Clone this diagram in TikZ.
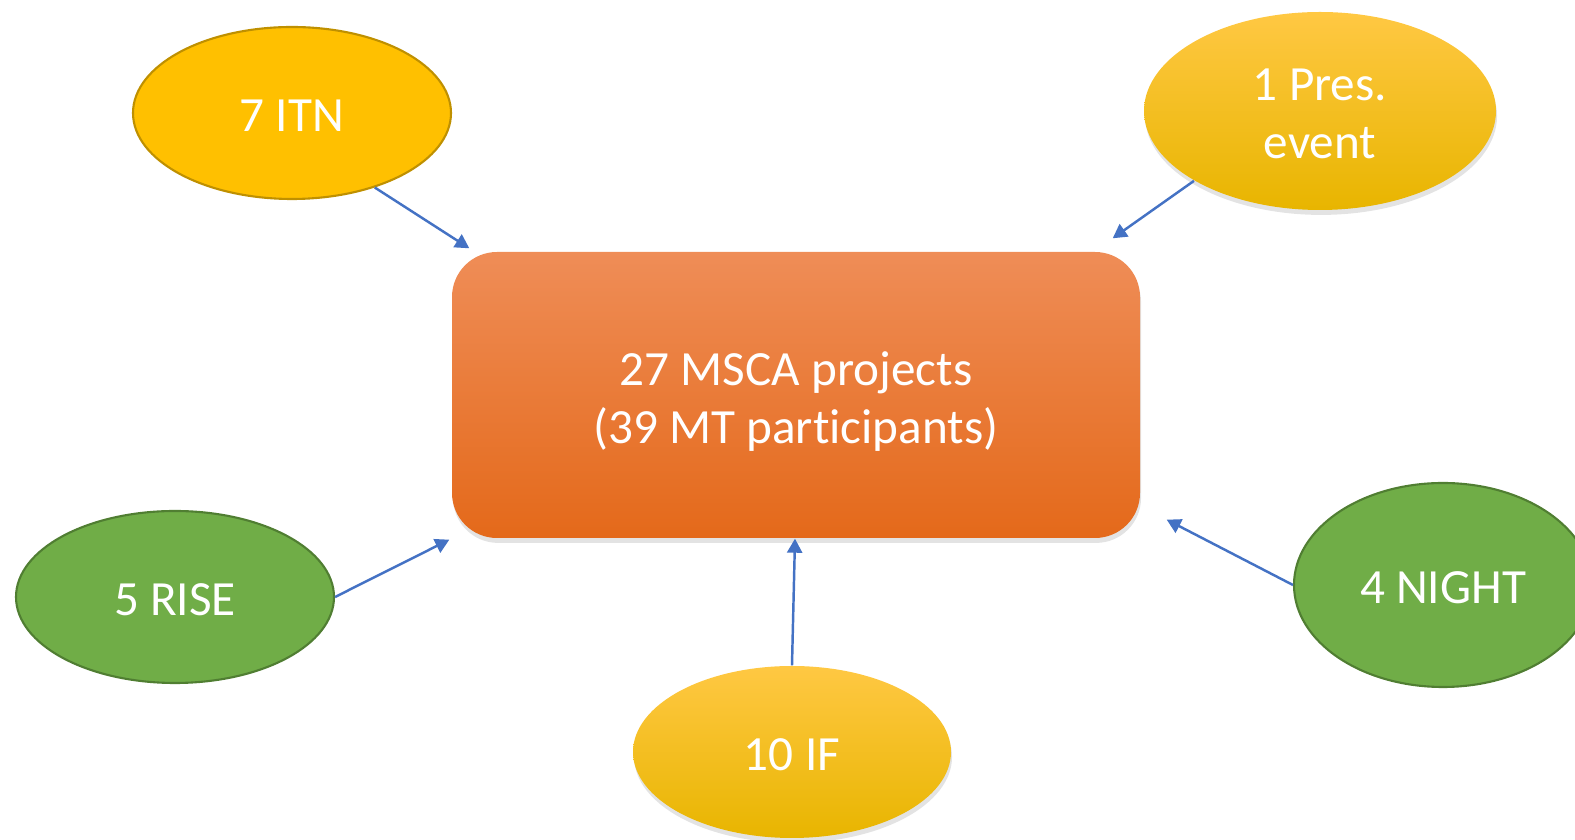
\documentclass[tikz,border=0pt]{standalone}
\usepackage{fontspec}
\setmainfont{Carlito}[Ligatures=NoCommon]
\usetikzlibrary{shapes.geometric,arrows.meta,shadows}
\definecolor{gold}{HTML}{FFC000}
\definecolor{goldtop}{HTML}{FFC843}
\definecolor{goldbot}{HTML}{E8B500}
\definecolor{golddark}{HTML}{BF9000}
\definecolor{leaf}{HTML}{70AD47}
\definecolor{leafdark}{HTML}{507E32}
\definecolor{fire}{HTML}{F07F30}
\definecolor{firetop}{HTML}{EF8D57}
\definecolor{firebot}{HTML}{E4691A}
\definecolor{linkblue}{HTML}{4472C4}
\newcommand{\sinktext}[2][2pt]{\raisebox{-#1}[\height][\depth]{#2}}
\begin{document}
\begin{tikzpicture}[
  txt/.style={text=white, font=\fontsize{14}{16.5}\selectfont, align=center},
  flat/.style={ellipse, txt, inner sep=0pt, minimum width=3.18cm, minimum height=1.72cm, line width=0.6pt},
  soft/.style={drop shadow={shadow xshift=0.3pt, shadow yshift=-1.4pt, opacity=0.22}},
  glow/.style={ellipse, txt, inner sep=0pt, top color=goldtop, middle color=gold, bottom color=goldbot, soft},
  link/.style={-{Triangle[length=1.4mm,width=1.5mm]}, linkblue, line width=0.7pt}]
\useasboundingbox (0,0) rectangle (15.75,8.4);
\node (msca) at (7.96,4.45) [txt, rounded corners=0.45cm, minimum width=6.88cm, minimum height=2.86cm,
  top color=firetop, middle color=fire, bottom color=firebot, soft]
  {\sinktext{\parbox{6cm}{\centering 27 MSCA projects\\(39 MT participants)}}};
\node (itn) at (2.92,7.27) [flat, fill=gold, draw=golddark] {\sinktext[0.8pt]{7 ITN}};
\node (rise) at (1.75,2.43) [flat, fill=leaf, draw=leafdark] {\sinktext[0.8pt]{5 RISE}};
\node (night) at (14.43,2.55) [flat, fill=leaf, draw=leafdark, minimum width=2.98cm, minimum height=2.04cm] {\sinktext[0.8pt]{4 NIGHT}};
\node (pres) at (13.20,7.29) [glow, minimum width=3.52cm, minimum height=1.98cm] {\sinktext[0.8pt]{\parbox{1.5cm}{\centering 1 Pres.\\event}}};
\node (if) at (7.92,0.88) [glow, minimum width=3.18cm, minimum height=1.72cm] {\sinktext[0.8pt]{10 IF}};

\draw [link] (itn.-42) -- ([shift={(0.18,0.03)}]msca.north west);
\draw [link] (pres.209) -- ([shift={(-0.28,0.13)}]msca.north east);
\draw [link] (rise.east) -- ([shift={(-0.02,-0.01)}]msca.south west);
\draw [link] (if.north) -- ([xshift=-0.01cm]msca.south);
\draw [link] (night.west) -- ([shift={(0.26,0.19)}]msca.south east);
\end{tikzpicture}
\end{document}
